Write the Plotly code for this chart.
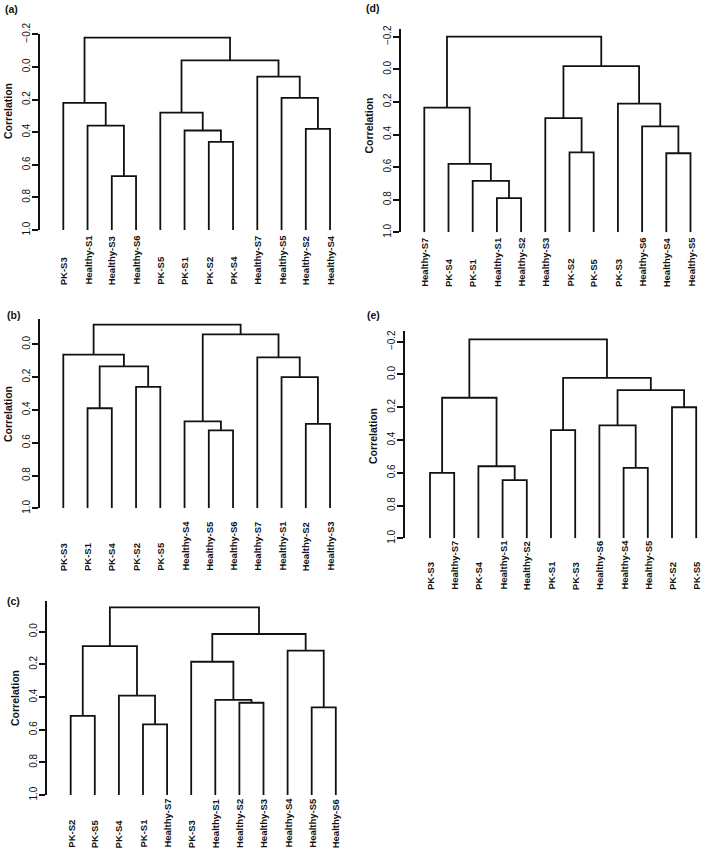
import plotly.graph_objects as go

W, H = 705, 852

# ---------------- data ----------------
# leaf order (left to right) for each panel
labels_a = ["PK-S3", "Healthy-S1", "Healthy-S3", "Healthy-S6", "PK-S5", "PK-S1",
            "PK-S2", "PK-S4", "Healthy-S7", "Healthy-S5", "Healthy-S2", "Healthy-S4"]
labels_b = ["PK-S3", "PK-S1", "PK-S4", "PK-S2", "PK-S5", "Healthy-S4",
            "Healthy-S5", "Healthy-S6", "Healthy-S7", "Healthy-S1", "Healthy-S2", "Healthy-S3"]
labels_c = ["PK-S2", "PK-S5", "PK-S4", "PK-S1", "Healthy-S7", "PK-S3",
            "Healthy-S1", "Healthy-S2", "Healthy-S3", "Healthy-S4", "Healthy-S5", "Healthy-S6"]
labels_d = ["Healthy-S7", "PK-S4", "PK-S1", "Healthy-S1", "Healthy-S2", "Healthy-S3",
            "PK-S2", "PK-S5", "PK-S3", "Healthy-S6", "Healthy-S4", "Healthy-S5"]
labels_e = ["PK-S3", "Healthy-S7", "PK-S4", "Healthy-S1", "Healthy-S2", "PK-S1",
            "PK-S3", "Healthy-S6", "Healthy-S4", "Healthy-S5", "PK-S2", "PK-S5"]

# merges (hclust style): negative = leaf number, positive = earlier merge row; last = correlation height
merges_a = [(-3, -4, 0.67), (-2, 1, 0.36), (-1, 2, 0.22), (-7, -8, 0.46), (-6, 4, 0.39),
            (-5, 5, 0.28), (-11, -12, 0.38), (-10, 7, 0.19), (-9, 8, 0.06), (6, 9, -0.04),
            (3, 10, -0.18)]
merges_b = [(-2, -3, 0.39), (-4, -5, 0.26), (1, 2, 0.135), (-1, 3, 0.063), (-7, -8, 0.525),
            (-6, 5, 0.47), (-11, -12, 0.485), (-10, 7, 0.20), (-9, 8, 0.08), (6, 9, -0.06),
            (4, 10, -0.12)]
merges_c = [(-1, -2, 0.515), (-4, -5, 0.567), (-3, 2, 0.392), (1, 3, 0.088), (-8, -9, 0.435),
            (-7, 5, 0.418), (-6, 6, 0.184), (-11, -12, 0.463), (-10, 8, 0.116), (7, 9, 0.014),
            (4, 10, -0.149)]
merges_d = [(-4, -5, 0.79), (-3, 1, 0.685), (-2, 2, 0.58), (-1, 3, 0.235), (-7, -8, 0.51),
            (-6, 5, 0.30), (-11, -12, 0.515), (-10, 7, 0.35), (-9, 8, 0.21), (6, 9, -0.02),
            (4, 10, -0.2)]
merges_e = [(-1, -2, 0.60), (-4, -5, 0.645), (-3, 2, 0.56), (1, 3, 0.142), (-6, -7, 0.34),
            (-9, -10, 0.57), (-8, 6, 0.31), (-11, -12, 0.20), (7, 8, 0.095), (5, 9, 0.02),
            (4, 10, -0.215)]

leaf_height = 1.0
tick_vals = [-0.2, 0.0, 0.2, 0.4, 0.6, 0.8, 1.0]
tick_text = ["\u22120.2", "0.0", "0.2", "0.4", "0.6", "0.8", "1.0"]
panel_names = ["(a)", "(b)", "(c)", "(d)", "(e)"]
axis_title = "Correlation"

# ---------------- layout (pixel geometry) ----------------
geom = [
    dict(ax=40.0, l1=63.3, sp=24.25, y0=66.9, k=163.1, top=-0.2, base=286,
         let=(11.5, 8.5), ttl=(8.0, 111)),
    dict(ax=40.0, l1=63.3, sp=24.25, y0=344.3, k=164.0, top=-0.152, base=572,
         let=(13.0, 314.5), ttl=(8.0, 414)),
    dict(ax=46.7, l1=70.7, sp=24.1, y0=631.7, k=163.3, top=-0.19, base=849,
         let=(13.3, 601.2), ttl=(14.5, 697.5)),
    dict(ax=400.7, l1=424.3, sp=24.2, y0=69.3, k=163.0, top=-0.25, base=288,
         let=(372.5, 8.2), ttl=(368.5, 126)),
    dict(ax=405.0, l1=430.0, sp=24.2, y0=374.5, k=163.8, top=-0.267, base=591,
         let=(373.7, 315.3), ttl=(373.0, 436)),
]
panels = [(labels_a, merges_a), (labels_b, merges_b), (labels_c, merges_c),
          (labels_d, merges_d), (labels_e, merges_e)]

FONT = "Liberation Sans, Arial, sans-serif"
LINE = dict(color="#111111", width=1.8)


def segments(merges):
    pos = {}
    xs, ys = [], []

    def node(i):
        if i < 0:
            return (-i, leaf_height)
        return pos[i]

    for r, (a, b, h) in enumerate(merges, 1):
        xa, ha = node(a)
        xb, hb = node(b)
        xs += [xa, xa, xb, xb, None]
        ys += [ha, h, h, hb, None]
        pos[r] = ((xa + xb) / 2.0, h)
    return xs, ys


fig = go.Figure()
annotations = []
for i, ((labels, merges), g) in enumerate(zip(panels, geom), 1):
    n = len(labels)
    xs, ys = segments(merges)
    xa = "x" if i == 1 else f"x{i}"
    ya = "y" if i == 1 else f"y{i}"
    fig.add_trace(go.Scatter(x=xs, y=ys, mode="lines", line=LINE, xaxis=xa, yaxis=ya,
                             hoverinfo="skip", showlegend=False))

    right_px = g["l1"] + (n - 1) * g["sp"] + 0.3 * g["sp"]
    x_lo = 1 - (g["l1"] - g["ax"]) / g["sp"]
    x_hi = n + 0.3
    y_bot_px = g["y0"] + leaf_height * g["k"]
    y_top_px = g["y0"] + g["top"] * g["k"]
    xkey = "xaxis" if i == 1 else f"xaxis{i}"
    ykey = "yaxis" if i == 1 else f"yaxis{i}"
    fig.update_layout({
        xkey: dict(domain=[g["ax"] / W, right_px / W], range=[x_lo, x_hi], visible=False,
                   anchor=ya),
        ykey: dict(domain=[1 - y_bot_px / H, 1 - y_top_px / H], range=[leaf_height, g["top"]],
                   anchor=xa, showline=True, linecolor="#111111", linewidth=1.6,
                   ticks="outside", ticklen=6, tickwidth=1.6, tickcolor="#111111",
                   tickvals=tick_vals, ticktext=tick_text, tickangle=-90,
                   ticklabelstandoff=-2,
                   tickfont=dict(family=FONT, size=10, color="#111111"),
                   showgrid=False, zeroline=False, automargin=False),
    })

    for j, lab in enumerate(labels, 1):
        annotations.append(dict(x=j, xref=xa, y=1 - g["base"] / H, yref="paper",
                                text=f"<b>{lab}</b>", textangle=-90, showarrow=False,
                                xanchor="center", yanchor="bottom", borderpad=0,
                                font=dict(family=FONT, size=9.5, color="#111111")))
    annotations.append(dict(x=g["let"][0] / W, y=1 - g["let"][1] / H, xref="paper", yref="paper",
                            text=f"<b>{panel_names[i-1]}</b>", showarrow=False,
                            xanchor="center", yanchor="middle",
                            font=dict(family=FONT, size=10.5, color="#111111")))
    annotations.append(dict(x=g["ttl"][0] / W, y=1 - g["ttl"][1] / H, xref="paper", yref="paper",
                            text=f"<b>{axis_title}</b>", textangle=-90, showarrow=False,
                            xanchor="center", yanchor="middle",
                            font=dict(family=FONT, size=10.5, color="#111111")))

fig.update_layout(width=W, height=H, margin=dict(l=0, r=0, t=0, b=0, autoexpand=False),
                  paper_bgcolor="white", plot_bgcolor="white",
                  annotations=annotations, showlegend=False)
fig.write_html("out.html", config={"displayModeBar": False},
               post_script="document.body.style.margin='0';document.body.style.overflow='hidden';")
